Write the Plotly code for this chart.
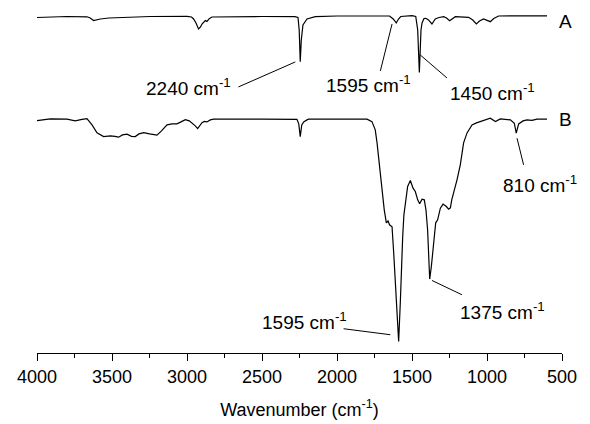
import plotly.graph_objects as go

# Spectrum A: wavenumber (cm-1) and signal (arbitrary units, offset)
wn_a = [4000, 3911, 3800, 3667, 3645, 3623, 3600, 3578, 3520, 3467, 3245, 3000, 2970, 2956, 2940,
        2923, 2910, 2900, 2878, 2867, 2850, 2833, 2700, 2500, 2280, 2260, 2252, 2245, 2238, 2227,
        2200, 2145, 2000, 1800, 1700, 1650, 1625, 1605, 1590, 1575, 1500, 1475, 1462, 1451, 1440,
        1433, 1420, 1408, 1390, 1367, 1345, 1320, 1289, 1270, 1249, 1230, 1211, 1123, 1095, 1071,
        1050, 1023, 1000, 978, 955, 923, 800, 700, 600]
sig_a = [335.8, 336.3, 336.8, 336.5, 335.3, 332.8, 333.8, 334.3, 335.3, 335.6, 336.8, 337.0, 336.3, 334.3, 330.3,
         324.3, 326.3, 329.3, 332.8, 331.8, 334.8, 336.3, 336.6, 336.8, 336.6, 335.8, 323.3, 291.6, 313.3, 328.3,
         334.3, 336.6, 337.3, 337.5, 337.5, 337.3, 334.3, 330.3, 334.3, 336.8, 337.6, 336.8, 323.3, 280.8, 323.3,
         330.3, 334.8, 335.0, 333.3, 329.3, 334.3, 335.8, 336.6, 335.3, 332.6, 334.8, 336.6, 336.0, 333.3, 329.3,
         332.3, 334.3, 333.3, 331.6, 334.8, 337.3, 337.5, 337.3, 337.5]

# Spectrum B
wn_b = [4000, 3911, 3800, 3745, 3700, 3667, 3633, 3600, 3556, 3511, 3480, 3456, 3430, 3400, 3370,
        3345, 3320, 3289, 3250, 3200, 3170, 3133, 3100, 3067, 3040, 3011, 2985, 2967, 2945, 2929,
        2915, 2900, 2885, 2867, 2845, 2822, 2500, 2267, 2255, 2245, 2235, 2222, 2200, 2189, 2000,
        1800, 1767, 1745, 1733, 1722, 1711, 1700, 1685, 1671, 1660, 1650, 1640, 1633, 1622, 1611,
        1600, 1589, 1578, 1571, 1562, 1554, 1545, 1529, 1511, 1493, 1478, 1462, 1449, 1433, 1418,
        1407, 1396, 1389, 1382, 1371, 1356, 1342, 1329, 1311, 1293, 1271, 1256, 1244, 1235, 1222,
        1200, 1178, 1156, 1133, 1100, 1070, 1044, 1010, 978, 944, 911, 844, 818, 805, 789,
        760, 733, 700, 667, 600]
sig_b = [232.6, 234.3, 234.0, 232.3, 233.8, 234.6, 228.3, 220.3, 216.6, 217.3, 216.8, 216.0, 218.3, 219.0, 216.8,
         216.6, 219.3, 220.6, 219.3, 218.0, 222.3, 228.3, 229.3, 229.3, 231.3, 233.6, 232.3, 230.3, 227.3, 224.6,
         227.3, 230.6, 231.8, 231.3, 233.3, 234.0, 234.0, 233.8, 229.3, 216.6, 228.3, 231.3, 233.3, 234.0, 234.0,
         234.0, 231.6, 223.3, 210.3, 193.3, 176.6, 160.3, 143.3, 130.3, 132.3, 128.3, 127.3, 126.3, 100.3, 66.6,
         33.3, 11.6, 50.3, 83.3, 116.6, 138.3, 150.3, 166.6, 172.6, 165.0, 161.6, 153.3, 149.3, 154.0, 153.3,
         143.3, 123.3, 100.3, 74.0, 86.6, 113.3, 130.3, 133.3, 145.0, 149.0, 146.6, 144.0, 145.3, 153.3, 160.3,
         173.3, 188.3, 210.3, 220.3, 228.3, 230.3, 231.6, 233.3, 235.0, 231.6, 234.3, 233.3, 230.0, 220.0, 229.3,
         232.3, 233.3, 232.8, 234.0, 234.0]

# Peak labels: text, label position, leader line (from, to)
labels = ["2240 cm<sup>-1</sup>", "1595 cm<sup>-1</sup>", "1450 cm<sup>-1</sup>",
          "810 cm<sup>-1</sup>", "1375 cm<sup>-1</sup>", "1595 cm<sup>-1</sup>"]
label_x = [2990, 1788, 961, 645, 898, 2215]
label_y = [266, 269, 261, 169, 42, 32]
line_x0 = [2657, 1711, 1267, 756, 1167, 1956]
line_y0 = [266.3, 282.3, 275.3, 188.3, 58.3, 24.3]
line_x1 = [2278, 1633, 1445, 800, 1367, 1645]
line_y1 = [291.3, 329.3, 298.3, 215.0, 72.6, 18.3]

series_names = ["A", "B"]
series_label_y = [331.3, 233.3]

FONT = "Liberation Sans, Arial, sans-serif"

fig = go.Figure()
fig.add_trace(go.Scatter(x=wn_a, y=sig_a, mode="lines", line=dict(color="black", width=1.2),
                         showlegend=False, hoverinfo="skip"))
fig.add_trace(go.Scatter(x=wn_b, y=sig_b, mode="lines", line=dict(color="black", width=1.2),
                         showlegend=False, hoverinfo="skip"))

for t, lx, ly, x0, y0, x1, y1 in zip(labels, label_x, label_y, line_x0, line_y0, line_x1, line_y1):
    fig.add_annotation(x=lx, y=ly, xref="x", yref="y", text=t, showarrow=False,
                       font=dict(family=FONT, size=19, color="black"),
                       xanchor="center", yanchor="middle")
    fig.add_shape(type="line", xref="x", yref="y", x0=x0, y0=y0, x1=x1, y1=y1,
                  line=dict(color="black", width=1))

for name, ny in zip(series_names, series_label_y):
    fig.add_annotation(x=1.006, y=ny, xref="paper", yref="y", text=name, showarrow=False,
                       font=dict(family=FONT, size=19, color="black"),
                       xanchor="center", yanchor="middle")

fig.update_layout(
    width=590, height=424,
    margin=dict(l=36.7, r=28.3, t=0, b=70.7),
    paper_bgcolor="white", plot_bgcolor="white",
    font=dict(family=FONT, size=18, color="black"),
    xaxis=dict(range=[4000, 500], tickmode="array",
               tickvals=[4000, 3500, 3000, 2500, 2000, 1500, 1000, 500],
               ticks="outside", ticklen=7, tickwidth=1, tickcolor="black",
               showline=True, linecolor="black", linewidth=1,
               showgrid=False, zeroline=False,
               tickfont=dict(family=FONT, size=18, color="black"),
               minor=dict(tickmode="array", tickvals=[3750, 3250, 2750, 2250, 1750, 1250, 750],
                          ticks="outside", ticklen=3.5, tickwidth=1, tickcolor="black", showgrid=False),
               title=dict(text="Wavenumber (cm<sup>-1</sup>)", standoff=17,
                          font=dict(family=FONT, size=18, color="black"))),
    yaxis=dict(range=[0, 353.3], visible=False, showgrid=False, zeroline=False),
)

fig.write_html("out.html")
